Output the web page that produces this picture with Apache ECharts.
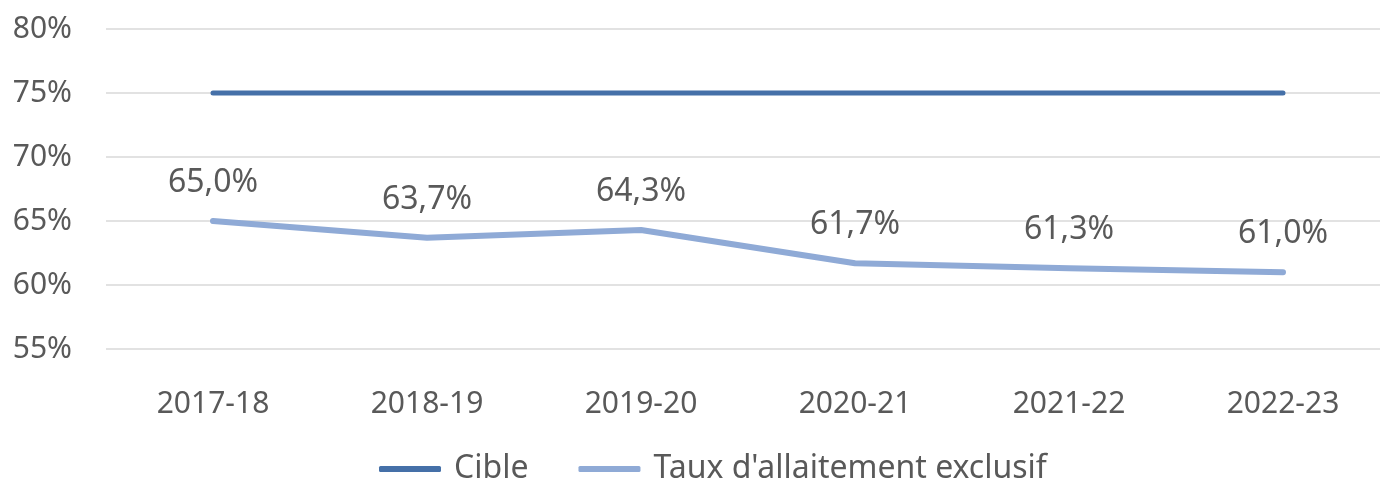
<!DOCTYPE html>
<html>
<head>
<meta charset="utf-8">
<script src="https://cdn.jsdelivr.net/npm/echarts@6/dist/echarts.min.js"></script>
<style>
  html, body { margin: 0; padding: 0; background: #fff; }
  #chart { width: 1380px; height: 482px; }
</style>
</head>
<body>
<div id="chart"></div>
<script>
// données
var years = ['2017-18', '2018-19', '2019-20', '2020-21', '2021-22', '2022-23'];
var cible = [75, 75, 75, 75, 75, 75];
var taux = [65.0, 63.7, 64.3, 61.7, 61.3, 61.0];
var yTicks = { min: 55, max: 80, step: 5 };

var chart = echarts.init(document.getElementById('chart'));
var grey = '#595959';
var font = '"Noto Sans", sans-serif';

var option = {
    animation: false,
    textStyle: { fontFamily: font },
    grid: {
        left: 106,
        right: -10,
        top: 29,
        bottom: 133,
        containLabel: false,
        outerBoundsMode: 'none'
    },
    legend: {
        data: ['Cible', "Taux d'allaitement exclusif"],
        top: 448,
        left: 374,
        itemWidth: 62,
        itemHeight: 6,
        itemGap: 50,
        icon: 'roundRect',
        textStyle: { color: grey, fontSize: 32, fontFamily: font, padding: [0, 0, 0, 8] }
    },
    xAxis: {
        type: 'category',
        data: years,
        boundaryGap: true,
        axisLine: { show: false },
        axisTick: { show: false },
        axisLabel: { color: grey, fontSize: 30, margin: 40, fontFamily: font }
    },
    yAxis: {
        type: 'value',
        min: yTicks.min,
        max: yTicks.max,
        interval: yTicks.step,
        axisLine: { show: false },
        axisTick: { show: false },
        axisLabel: {
            color: grey,
            fontSize: 30,
            margin: 34,
            fontFamily: font,
            formatter: '{value}%'
        },
        splitLine: { lineStyle: { color: '#d9d9d9', width: 1.5 } }
    },
    series: [{
        name: 'Cible',
        type: 'line',
        data: cible,
        symbol: 'none',
        color: '#4570a8',
        lineStyle: { width: 5, cap: 'round' }
    }, {
        name: "Taux d'allaitement exclusif",
        type: 'line',
        data: taux,
        symbol: 'circle',
        symbolSize: 0,
        showSymbol: true,
        color: '#8faad6',
        lineStyle: { width: 6, cap: 'round', join: 'round' },
        label: {
            show: true,
            position: 'top',
            distance: 22,
            color: grey,
            fontSize: 32,
            fontFamily: font,
            formatter: function (p) {
                return p.value.toFixed(1).replace('.', ',') + '%';
            }
        }
    }]
};
chart.setOption(option);
</script>
</body>
</html>
